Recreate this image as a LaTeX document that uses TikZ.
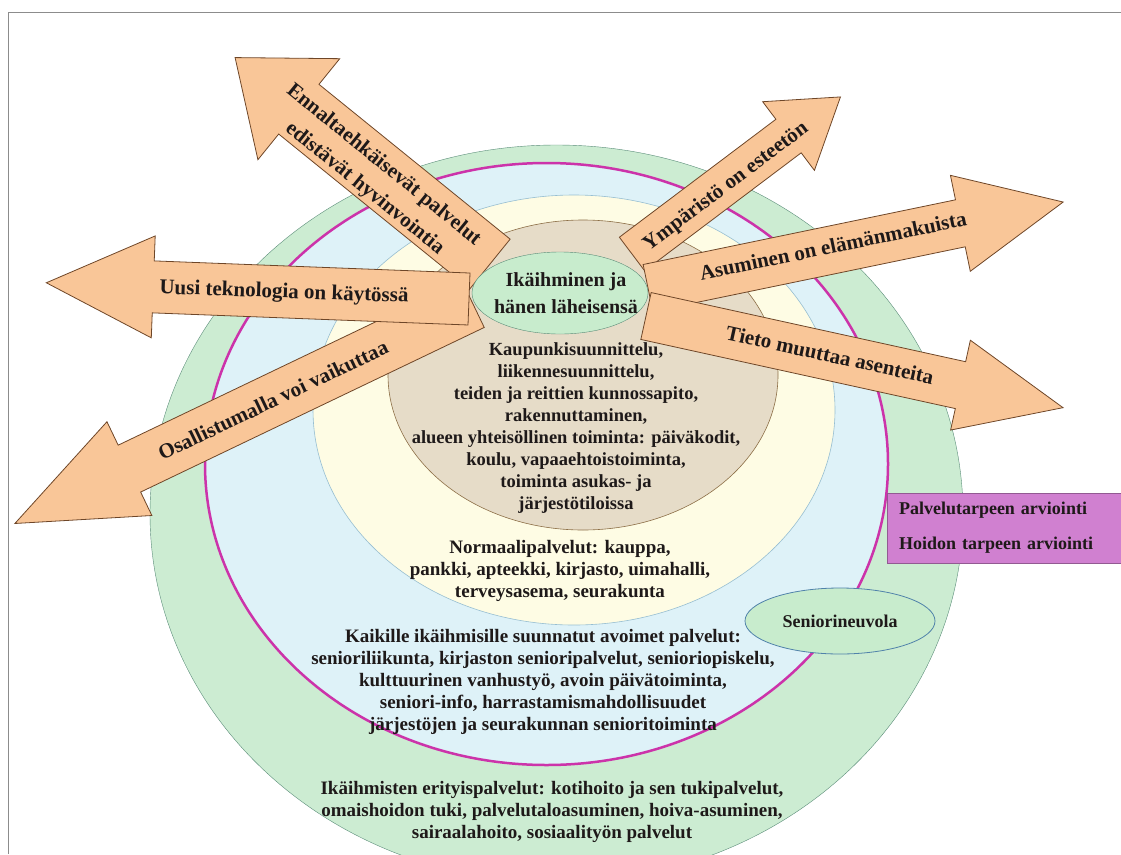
\documentclass[tikz,border=0pt]{standalone}
\usepackage{fontspec}
\setmainfont{Liberation Serif}
\usetikzlibrary{shapes.geometric}

\definecolor{framegray}{RGB}{140,140,140}
\definecolor{ringgreen}{RGB}{204,236,210}
\definecolor{ringline}{RGB}{90,140,120}
\definecolor{ringmagenta}{RGB}{204,51,170}
\definecolor{ringblue}{RGB}{222,242,248}
\definecolor{creamfill}{RGB}{254,252,228}
\definecolor{creamline}{RGB}{150,190,210}
\definecolor{tanfill}{RGB}{230,220,200}
\definecolor{tanline}{RGB}{140,110,70}
\definecolor{peach}{RGB}{249,198,152}
\definecolor{peachline}{RGB}{110,70,40}
\definecolor{coregreen}{RGB}{200,236,205}
\definecolor{neuvolaline}{RGB}{80,130,170}
\definecolor{orchidfill}{RGB}{208,128,208}
\definecolor{textdark}{RGB}{30,25,25}

\tikzset{
  arrowbox/.style={fill=peach, draw=peachline, line width=0.8pt},
  arrowtext/.style={font=\bfseries\fontsize{21}{30}\selectfont, text=textdark, align=center, inner sep=0pt},
  ringtext/.style={font=\bfseries\fontsize{19}{22}\selectfont, text=textdark, align=center, inner sep=0pt},
  neuvola/.style={ellipse, fill=coregreen, draw=neuvolaline, line width=0.8pt, minimum width=190pt, minimum height=66pt, inner sep=0pt},
  arviobox/.style={fill=orchidfill, draw=orchidfill!70!black, line width=0.6pt, minimum width=234pt, minimum height=70pt, text width=210pt, align=left, inner xsep=12pt}
}

\begin{document}
\begin{tikzpicture}[x=1pt,y=-1pt]
        \useasboundingbox (0,0) rectangle (1121,854);
        \clip (0,0) rectangle (1121,854);
        \draw[framegray] (8,854) -- (8,12) -- (1121,12);

        \filldraw[fill=ringgreen, draw=ringline] (556.5,514) ellipse [x radius=406.5pt, y radius=369pt];
        \filldraw[fill=ringblue, draw=ringmagenta, line width=2.5pt] (546.5,464) ellipse [x radius=341.5pt, y radius=301pt];
        \filldraw[fill=creamfill, draw=creamline, line width=0.6pt] (574,410) ellipse [x radius=261pt, y radius=215pt];
        \filldraw[fill=tanfill, draw=tanline, line width=0.6pt] (583,375) ellipse [x radius=195pt, y radius=155pt];

        \foreach \ax/\ay/\ang/\len/\sw/\hw/\hl in {473/304/205.6/508/26/52/127, 490/264/141/328/32/65/82, 469/299/177.8/423/26/51/107, 632/254/37/261/21/43/65, 648/288/11.7/424/24/49/105, 646/316/-12.4/427/24/46/105} {
            \begin{scope}[shift={(\ax,\ay)}, rotate=\ang]
                \draw[arrowbox] (0,-\sw) -- (\len-\hl,-\sw) -- (\len-\hl,-\hw) -- (\len,0) -- (\len-\hl,\hw) -- (\len-\hl,\sw) -- (0,\sw) -- cycle;
            \end{scope}
        }

        \node[arrowtext, rotate=-39] (ennalta) at (374,177) {Ennaltaehkäisevät palvelut\\edistävät hyvinvointia};
        \node[arrowtext, rotate=-2] (teknologia) at (284,293) {Uusi teknologia on käytössä};
        \node[arrowtext, rotate=25.5] (osallistuminen) at (273,400) {Osallistumalla voi vaikuttaa};
        \node[arrowtext, rotate=37] (ymparisto) at (726,187) {Ympäristö on esteetön};
        \node[arrowtext, rotate=11.7] (asuminen) at (833,246) {Asuminen on elämänmakuista};
        \node[arrowtext, rotate=-12.4] (tieto) at (830,355) {Tieto muuttaa asenteita};

        \filldraw[fill=coregreen, draw=ringline] (560,293) ellipse [x radius=88pt, y radius=41pt];
        \node[ringtext, font=\bfseries\fontsize{20}{27}\selectfont] (ikaihminen) at (566,293) {Ikäihminen ja\\hänen läheisensä};

        \node[ringtext, font=\bfseries\fontsize{18.5}{22}\selectfont] (kaupunki) at (576,428) {Kaupunkisuunnittelu,\\liikennesuunnittelu,\\teiden ja reittien kunnossapito,\\rakennuttaminen,\\alueen yhteisöllinen toiminta: päiväkodit,\\koulu, vapaaehtoistoiminta,\\toiminta asukas- ja\\järjestötiloissa};
        \node[ringtext] (normaali) at (560,571) {Normaalipalvelut: kauppa,\\pankki, apteekki, kirjasto, uimahalli,\\terveysasema, seurakunta};
        \node[ringtext] (avoimet) at (543,682) {Kaikille ikäihmisille suunnatut avoimet palvelut:\\senioriliikunta, kirjaston senioripalvelut, senioriopiskelu,\\kulttuurinen vanhustyö, avoin päivätoiminta,\\seniori-info, harrastamismahdollisuudet\\järjestöjen ja seurakunnan senioritoiminta};
        \node[ringtext] (erityis) at (552,812) {Ikäihmisten erityispalvelut: kotihoito ja sen tukipalvelut,\\omaishoidon tuki, palvelutaloasuminen, hoiva-asuminen,\\sairaalahoito, sosiaalityön palvelut};

        \node[neuvola, font=\bfseries\fontsize{18}{22}\selectfont, text=textdark] (seniorineuvola) at (840,621) {Seniorineuvola};
        \node[arviobox, font=\bfseries\fontsize{18}{35}\selectfont, text=textdark] (arviointi) at (1004,528) {Palvelutarpeen arviointi\\Hoidon tarpeen arviointi};
\end{tikzpicture}
\end{document}
